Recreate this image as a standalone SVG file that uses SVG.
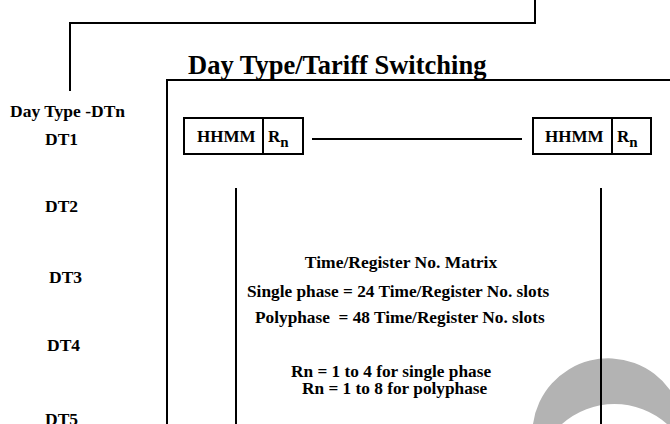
<svg xmlns="http://www.w3.org/2000/svg" width="670" height="424" viewBox="0 0 670 424">
<style>
  .t { font-family: "Liberation Serif", "Times New Roman", serif; font-weight: bold; fill: #000; }
  .ln { stroke: #000; stroke-width: 2; fill: none; }
  .box { stroke: #000; stroke-width: 2; fill: #fff; }
</style>
<rect width="670" height="424" fill="#fff"/>
<path id="watermark" d="M533 424 A76 76 0 0 1 670 390 L670 424 L667 424 A79 79 0 0 0 562 424 Z" fill="#b3b3b3"/>
<g id="frame">
  <polyline class="ln" points="535,0 535,23 70,23 70,91"/>
  <polyline class="ln" points="167,424 167,80 670,80"/>
</g>
<g id="title"><text class="t" x="188" y="74" font-size="26.5">Day Type/Tariff Switching</text></g>
<g id="daytypes">
  <text class="t" x="10" y="117" font-size="17.5">Day Type -DTn</text>
  <text class="t" x="45" y="145" font-size="17.5">DT1</text>
  <text class="t" x="45" y="212" font-size="17.5">DT2</text>
  <text class="t" x="49" y="283" font-size="17.5">DT3</text>
  <text class="t" x="47" y="351" font-size="17.5">DT4</text>
  <text class="t" x="45" y="425" font-size="17.5">DT5</text>
</g>
<g id="slot-first">
  <rect class="box" x="184" y="118" width="119" height="36"/>
  <line class="ln" x1="263" y1="118" x2="263" y2="154"/>
  <text class="t" x="197" y="142" font-size="17">HHMM</text>
  <text class="t" x="268" y="142" font-size="17">R<tspan font-size="15" dy="5">n</tspan></text>
</g>
<g id="slot-last">
  <rect class="box" x="533" y="118" width="118" height="36"/>
  <line class="ln" x1="612" y1="118" x2="612" y2="154"/>
  <text class="t" x="545" y="142" font-size="17">HHMM</text>
  <text class="t" x="617" y="142" font-size="17">R<tspan font-size="15" dy="5">n</tspan></text>
</g>
<g id="connectors">
  <line class="ln" x1="312" y1="139" x2="522" y2="139"/>
  <line class="ln" x1="236" y1="188" x2="236" y2="424"/>
  <line class="ln" x1="601" y1="188" x2="601" y2="424"/>
</g>
<g id="matrix">
  <text class="t" x="401" y="268" text-anchor="middle" font-size="17.5">Time/Register No. Matrix</text>
  <text class="t" x="247" y="297" font-size="17.3">Single phase = 24 Time/Register No. slots</text>
  <text class="t" x="255" y="323" font-size="17.3" xml:space="preserve">Polyphase  = 48 Time/Register No. slots</text>
  <text class="t" x="291" y="377" font-size="17.3">Rn = 1 to 4 for single phase</text>
  <text class="t" x="302" y="394" font-size="17.3">Rn = 1 to 8 for polyphase</text>
</g>
</svg>
